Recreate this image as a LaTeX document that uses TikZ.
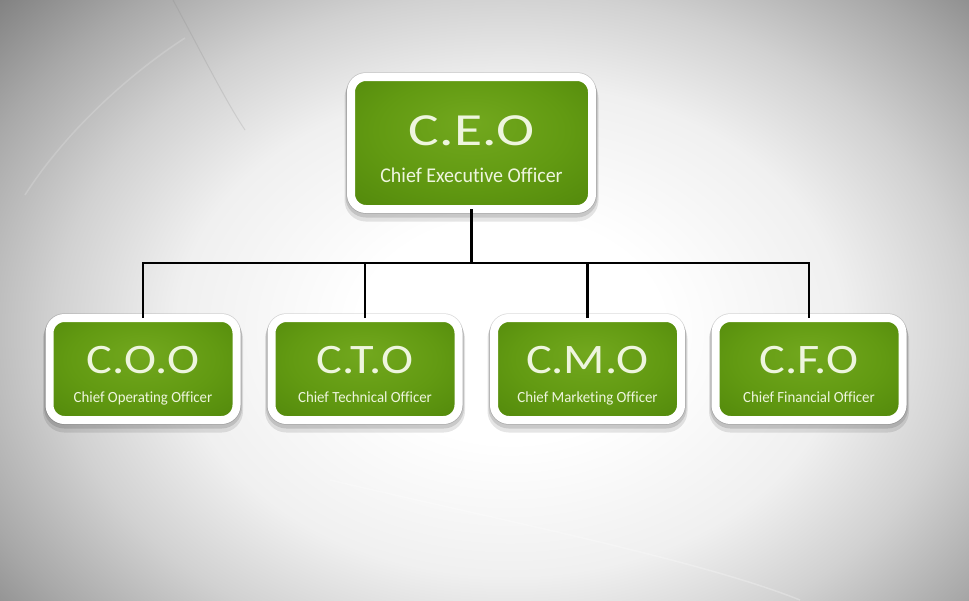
\documentclass[tikz,border=0pt]{standalone}
\usepackage{fontspec}
\setmainfont{Carlito}[Ligatures=NoCommon]
\usetikzlibrary{shadows,calc}
\definecolor{gc1}{HTML}{72A81E}
\definecolor{gc2}{HTML}{629A12}
\definecolor{gc3}{HTML}{4F850A}
\definecolor{txt}{HTML}{EEF5DE}
\pgfdeclareradialshading{bgshade}{\pgfpoint{0bp}{0bp}}{%
  color(0bp)=(white); color(5bp)=(white); color(11bp)=(black!6);
  color(15bp)=(black!18); color(19bp)=(black!34); color(23bp)=(black!52); color(25bp)=(black!58); color(50bp)=(black!58)}
\pgfdeclareradialshading{greenshade}{\pgfpoint{0bp}{8bp}}{%
  color(0bp)=(gc1); color(20bp)=(gc2); color(40bp)=(gc3); color(50bp)=(gc3)}
\tikzset{
  box/.style={draw=white, line width=8pt, shading=greenshade, rounded corners=15pt,
    inner sep=0pt, outer sep=0pt,
    general shadow={draw=black, fill=none, line width=11pt, opacity=.12, shadow yshift=-3pt},
    general shadow={draw=black, fill=none, line width=13pt, opacity=.10, shadow yshift=-6pt},
    general shadow={draw=black, fill=none, line width=9.5pt, opacity=.14, shadow yshift=0pt}},
  bigbox/.style={box, minimum width=241pt, minimum height=132pt},
  smallbox/.style={box, minimum width=187pt, minimum height=102pt},
  bigtitle/.style={text=txt, anchor=base, inner sep=0pt, font=\fontsize{46}{50}\selectfont},
  bigsub/.style={text=txt, anchor=base, inner sep=0pt, font=\fontsize{21}{24}\selectfont},
  smalltitle/.style={text=txt, anchor=base, inner sep=0pt, font=\fontsize{42}{46}\selectfont},
  smallsub/.style={text=txt, anchor=base, inner sep=0pt, font=\fontsize{15.5}{18}\selectfont},
  conn/.style={draw=black, line width=2.4pt}
}
\begin{document}
\begin{tikzpicture}[x=1pt,y=-1pt]
\useasboundingbox (0,0) rectangle (969,600);
\begin{scope}
  \clip (0,0) rectangle (969,600);
  \shade[shading=bgshade] (510-760,330-560) rectangle (510+760,330+560);
  \draw[black!50, opacity=.2, line width=1pt] (173,0) .. controls (200,50) and (225,100) .. (245,130);
  \draw[white, opacity=.18, line width=1.5pt] (185,38) .. controls (120,80) and (60,140) .. (25,195);
  \draw[white, opacity=.25, line width=1.5pt] (330,480) .. controls (500,520) and (700,560) .. (800,600);
\end{scope}

\node[bigbox] (ceo) at (471.5,143) {};
\node[smallbox] (coo) at (143,369) {};
\node[smallbox] (cto) at (365,369) {};
\node[smallbox] (cmo) at (587.5,369) {};
\node[smallbox] (cfo) at (809,369) {};

\node[bigtitle] (ceoT) at ($(ceo.center)+(0,2)$) {\scalebox{1.25}[1]{C.E.O}};
\node[bigsub] (ceoS) at ($(ceo.center)+(0,39)$) {\scalebox{0.95}[1]{Chief Executive Officer}};

\foreach \n/\t/\s in {coo/C.O.O/Chief Operating Officer, cto/C.T.O/Chief Technical Officer,
  cmo/C.M.O/Chief Marketing Officer, cfo/C.F.O/Chief Financial Officer}{
  \node[smalltitle] (\n T) at ($(\n.center)+(0,4)$) {\scalebox{1.15}[1]{\t}};
  \node[smallsub] (\n S) at ($(\n.center)+(0,33)$) {\scalebox{0.957}[1]{\s}};
}

\coordinate (bus) at (471.5,263);
\draw[conn] (ceo.south) -- (ceo.south |- bus);
\draw[conn] (coo.north) |- (cfo.north |- bus) -- (cfo.north);
\draw[conn] (cto.north) -- (cto.north |- bus);
\draw[conn] (cmo.north) -- (cmo.north |- bus);
\end{tikzpicture}
\end{document}
